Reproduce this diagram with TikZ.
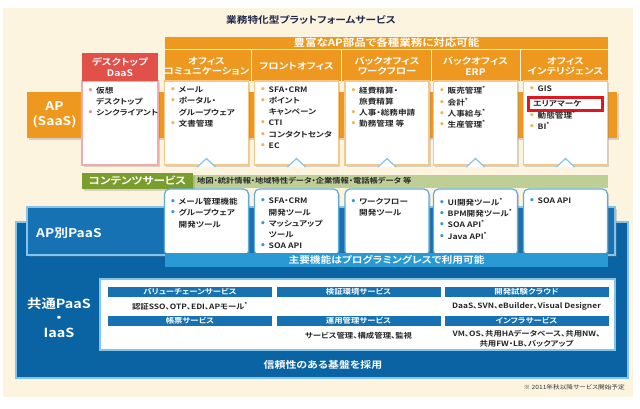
\documentclass[tikz,border=0pt]{standalone}
\usepackage{fontspec}
\setmainfont{Noto Sans CJK JP}[BoldFont={* Bold},FakeStretch=1.15,RawFeature=+palt]
\newfontfamily\dotfont{DejaVu Sans}
\usepackage{xcolor}
\usetikzlibrary{shadows}
\definecolor{bgcream}{RGB}{253,244,224}
\definecolor{apor}{RGB}{238,152,32}
\definecolor{daasred}{RGB}{226,80,74}
\definecolor{daaspink}{RGB}{240,172,172}
\definecolor{bodyor}{RGB}{245,200,135}
\definecolor{cgreen}{RGB}{122,158,46}
\definecolor{cgreenlt}{RGB}{190,207,150}
\definecolor{paasblue}{RGB}{22,114,178}
\definecolor{basedark}{RGB}{10,100,164}
\definecolor{striplt}{RGB}{42,154,212}
\definecolor{edgelt}{RGB}{132,196,234}
\definecolor{dotpink}{RGB}{232,140,155}
\definecolor{dotor}{RGB}{240,180,90}
\definecolor{dotblue}{RGB}{52,152,212}
\definecolor{markred}{RGB}{226,22,32}
\definecolor{titlenavy}{RGB}{30,40,70}
\newcommand{\bl}[1]{\makebox[8.5pt][l]{\textcolor{#1}{\dotfont\fontsize{9}{9}\selectfont •}}}
\newcommand{\bhang}{\makebox[8.5pt]{}}
\newcommand{\astk}{\textsuperscript{*}}
\tikzset{
  shade/.style={drop shadow={opacity=0.3, shadow xshift=1.5pt, shadow yshift=-1.5pt}},
  colhead/.style={text=white, font=\bfseries\fontsize{9}{10.5}\selectfont, align=center, inner sep=0pt},
  colbody/.style={fill=white, draw=bodyor, line width=1.2pt, shade},
  bodytext/.style={anchor=north west, inner sep=0pt, align=left, text=black!85, font=\bfseries\fontsize{7.5}{11.2}\selectfont},
  paasbox/.style={fill=white, draw=edgelt!70!paasblue, line width=1.2pt, rounded corners=5pt, shade},
  secthead/.style={fill=paasblue, text=white, minimum width=164pt, minimum height=10pt, inner sep=0pt, font=\bfseries\fontsize{7.3}{8}\selectfont},
  secttext/.style={inner sep=0pt, align=center, text=black!85, font=\bfseries\fontsize{7.3}{10}\selectfont},
  bigtext/.style={text=white, align=center, inner sep=0pt, font=\bfseries\fontsize{12}{14.5}\selectfont},
  bandtext/.style={text=white, inner sep=0pt, font=\bfseries\fontsize{9.3}{10}\selectfont}
}
\begin{document}
\begin{tikzpicture}[x=1pt, y=-1pt]
\useasboundingbox (0,0) rectangle (640,408);
\fill[bgcream] (3,8) rectangle (633,397);
\node[font=\bfseries\fontsize{9.3}{10}\selectfont, text=titlenavy] (title) at (311,20) {業務特化型プラットフォームサービス};

% SaaS layer
\fill[apor, shade] (27,92) rectangle (617,138);
\node[bigtext] (apsaas) at (54.5,115) {AP\\(SaaS)};
\fill[apor] (165,37) rectangle (608,81);
\draw[bgcream, line width=1pt] (165,49.5) -- (608,49.5);
\foreach \gx in {251.5,341.5,431.5,520.5}
  \draw[bgcream, line width=1pt] (\gx,49.5) -- (\gx,81);
\node[bandtext, font=\bfseries\fontsize{10}{10}\selectfont] (banner) at (386.5,43) {豊富なAP部品で各種業務に対応可能};

\filldraw[colbody, draw=daaspink] (82,81) rectangle (158,165);
\fill[daasred] (82,53) rectangle (158,81);
\node[colhead] (hdaas) at (120,67) {デスクトップ\\DaaS};
\foreach \cx in {206.5,296.5,387,475.5,565.5}
  \filldraw[colbody] (\cx-42,81) rectangle (\cx+42,165);
\node[colhead] (hoc) at (206.5,66) {オフィス\\コミュニケーション};
\node[colhead] (hfo) at (296.5,66) {フロントオフィス};
\node[colhead] (hwf) at (387,66) {バックオフィス\\ワークフロー};
\node[colhead] (herp) at (475.5,66) {バックオフィス\\ERP};
\node[colhead] (hoi) at (565.5,66) {オフィス\\インテリジェンス};

\node[bodytext] (bdaas) at (87.5,86.5) {\bl{dotpink}仮想\\\bhang デスクトップ\\\bl{dotpink}シンクライアント};
\node[bodytext] (boc) at (170,86.5) {\bl{dotor}メール\\\bl{dotor}ポータル・\\\bhang グループウェア\\\bl{dotor}文書管理};
\node[bodytext] (bfo) at (260,86.5) {\bl{dotor}SFA・CRM\\\bl{dotor}ポイント\\\bhang キャンペーン\\\bl{dotor}CTI\\\bl{dotor}コンタクトセンタ\\\bl{dotor}EC};
\node[bodytext] (bwf) at (350.5,86.5) {\bl{dotor}経費精算・\\\bhang 旅費精算\\\bl{dotor}人事・総務申請\\\bl{dotor}勤務管理 等};
\node[bodytext] (berp) at (439,86.5) {\bl{dotor}販売管理\astk\\\bl{dotor}会計\astk\\\bl{dotor}人事給与\astk\\\bl{dotor}生産管理\astk};
\node[bodytext] (boi) at (529,86) {\bl{dotor}GIS};
\node[draw=markred, fill=white, line width=3pt, minimum width=74pt, minimum height=13pt, inner sep=0pt] (areabox) at (565,103.5) {};
\node[anchor=west, inner sep=0pt, text=black!85, font=\bfseries\fontsize{7.5}{8}\selectfont] (areamk) at (533,103.5) {エリアマーケ};
\node[bodytext] (boi2) at (529,111) {\bl{dotor}動態管理\astk\\\bl{dotor}BI\astk};

\foreach \cx in {206.5,296.5,387,475.5,565.5}
  \filldraw[fill=white, draw=edgelt, line width=1.2pt] (\cx-9,167) -- (\cx,158.5) -- (\cx+9,167);

% contents service
\fill[cgreenlt] (193,174.5) rectangle (608,187.5);
\node[fill=cgreen, shade, minimum width=111pt, minimum height=16pt, inner sep=0pt, text=white,
  font=\bfseries\fontsize{10}{10}\selectfont] (cslabel) at (137.5,181) {コンテンツサービス};
\node[anchor=west, inner sep=0pt, text=black!85, font=\bfseries\fontsize{7.2}{8}\selectfont] (csdata) at (197,181)
  {地図・統計情報・地域特性データ・企業情報・電話帳データ 等};

% PaaS layer
\filldraw[fill=basedark, draw=edgelt, line width=1.5pt] (16,222) rectangle (628,378);
\filldraw[fill=paasblue, draw=edgelt, line width=1.5pt, shade] (27,207) rectangle (615,255);
\node[anchor=west, text=white, inner sep=0pt, font=\bfseries\fontsize{12}{12}\selectfont] (appaas) at (36,233) {AP別PaaS};
\foreach \cx in {206.5,296.5,387,475.5,565.5}
  \filldraw[paasbox] (\cx-42,189) rectangle (\cx+42,256);
\node[bodytext] (poc) at (170,198) {\bl{dotblue}メール管理機能\\\bl{dotblue}グループウェア\\\bhang 開発ツール};
\node[bodytext] (pfo) at (260,198) {\bl{dotblue}SFA・CRM\\\bhang 開発ツール\\\bl{dotblue}マッシュアップ\\\bhang ツール\\\bl{dotblue}SOA API};
\node[bodytext] (pwf) at (350.5,198) {\bl{dotblue}ワークフロー\\\bhang 開発ツール};
\node[bodytext] (perp) at (439,198) {\bl{dotblue}UI開発ツール\astk\\\bl{dotblue}BPM開発ツール\astk\\\bl{dotblue}SOA API\astk\\\bl{dotblue}Java API\astk};
\node[bodytext] (poi) at (529,198) {\bl{dotblue}SOA API};
\fill[striplt] (165,253) rectangle (608,267);
\node[bandtext] (nocode) at (386.5,260) {主要機能はプログラミングレスで利用可能};

% common PaaS / IaaS
\node[bigtext, font=\bfseries\fontsize{12.5}{14.5}\selectfont] (kyotsu) at (59,317.5) {共通PaaS\\・\\IaaS};
\filldraw[fill=white, draw=edgelt, line width=1.5pt] (100,279) rectangle (615,350);
\node[secthead] (vc) at (190,292) {バリューチェーンサービス};
\node[secthead] (kensho) at (358.5,292) {検証環境サービス};
\node[secthead] (kaihatsu) at (526.5,292) {開発試験クラウド};
\node[secthead] (chohyo) at (190,321) {帳票サービス};
\node[secthead] (unyo) at (358.5,321) {運用管理サービス};
\node[secthead] (infra) at (526.5,321) {インフラサービス};
\node[secttext] (vctext) at (190,306) {認証SSO、OTP、EDI、APモール\astk};
\node[secttext] (kaihatsutext) at (526.5,306) {DaaS、SVN、eBuilder、Visual Designer};
\node[secttext] (unyotext) at (358.5,336) {サービス管理、構成管理、監視};
\node[secttext] (infratext) at (526.5,339) {VM、OS、共用HAデータベース、共用NW、\\共用FW・LB、バックアップ};
\node[bandtext, font=\bfseries\fontsize{9.5}{10}\selectfont] (reliable) at (323,365) {信頼性のある基盤を採用};

\node[anchor=east, inner sep=0pt, text=black!80, font=\fontsize{5.8}{6}\selectfont] (note) at (625,387) {※ 2011年秋以降サービス開始予定};
\end{tikzpicture}
\end{document}
